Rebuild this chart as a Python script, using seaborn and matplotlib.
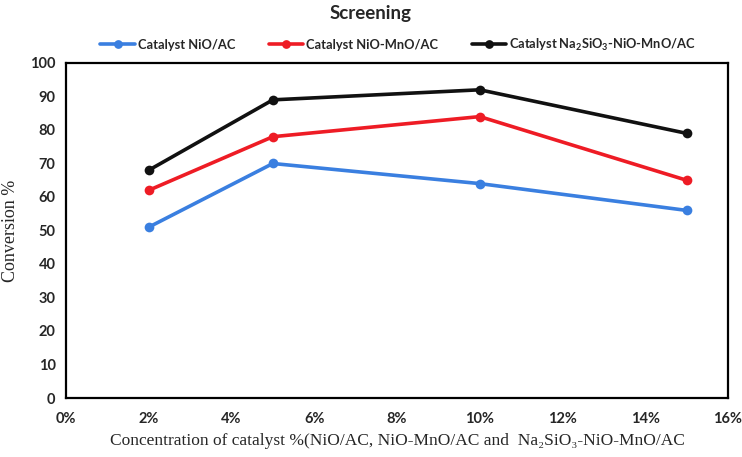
import matplotlib
matplotlib.use("Agg")
import matplotlib.pyplot as plt
import seaborn as sns
import pandas as pd
from matplotlib.ticker import FuncFormatter

concentration = [0.02, 0.05, 0.10, 0.15]
nio_ac = [51, 70, 64, 56]
nio_mno_ac = [62, 78, 84, 65]
na2sio3_nio_mno_ac = [68, 89, 92, 79]
series_names = ["Catalyst NiO/AC", "Catalyst NiO-MnO/AC",
                r"Catalyst Na$_\mathregular{2}$SiO$_\mathregular{3}$-NiO-MnO/AC"]
colors = ["#3a7fe0", "#ee1c25", "#111111"]

rows = []
for name, vals in zip(series_names, [nio_ac, nio_mno_ac, na2sio3_nio_mno_ac]):
    for x, v in zip(concentration, vals):
        rows.append({"x": x, "y": v, "series": name})
df = pd.DataFrame(rows)

sns.set_style("white")
plt.rcParams["font.family"] = ["Lato", "DejaVu Sans"]
plt.rcParams["mathtext.fontset"] = "custom"
plt.rcParams["mathtext.rm"] = "Lato"
plt.rcParams["mathtext.bf"] = "Lato:bold"

fig = plt.figure(figsize=(7.42, 4.57), dpi=100)
ax = fig.add_axes([66/742, 1-398/457, (728-66)/742, (398-63)/457])

sns.lineplot(data=df, x="x", y="y", hue="series", palette=colors,
             marker="o", markersize=7, markeredgewidth=0, linewidth=2.6,
             ax=ax, legend=True)

ax.set_xlim(0, 0.16)
ax.set_ylim(0, 100)
ax.set_xticks([i*0.02 for i in range(9)])
ax.set_yticks(range(0, 101, 10))
ax.xaxis.set_major_formatter(FuncFormatter(lambda v, p: f"{round(v*100)}%"))
ax.tick_params(axis="both", labelsize=10.5, length=4, width=1, direction="out",
               color="#555555")
for lab in ax.get_xticklabels() + ax.get_yticklabels():
    lab.set_fontweight("bold")
ax.tick_params(axis="x", pad=6)
for s in ax.spines.values():
    s.set_color("black")
    s.set_linewidth(1.6)

ax.set_xlabel("Concentration of catalyst %(NiO/AC, NiO-MnO/AC and  Na\u2082SiO\u2083-NiO-MnO/AC",
              family=["Liberation Serif", "DejaVu Serif"], fontsize=12.5, labelpad=5)
ax.set_ylabel("Conversion %", family=["Liberation Serif", "DejaVu Serif"], fontsize=13, labelpad=8)

fig.text(0.5, 1-13/457, "Screening", ha="center", va="center", fontsize=13.5, fontweight="bold")

leg = ax.legend(loc="center", bbox_to_anchor=((398-66)/662, 1 + (63-45)/335), ncol=3, frameon=False,
                prop={"size": 9.3, "weight": "bold"}, handlelength=2.7, columnspacing=2.6,
                handletextpad=0.2, markerscale=0.9)

fig.savefig("out.png", dpi=100)
